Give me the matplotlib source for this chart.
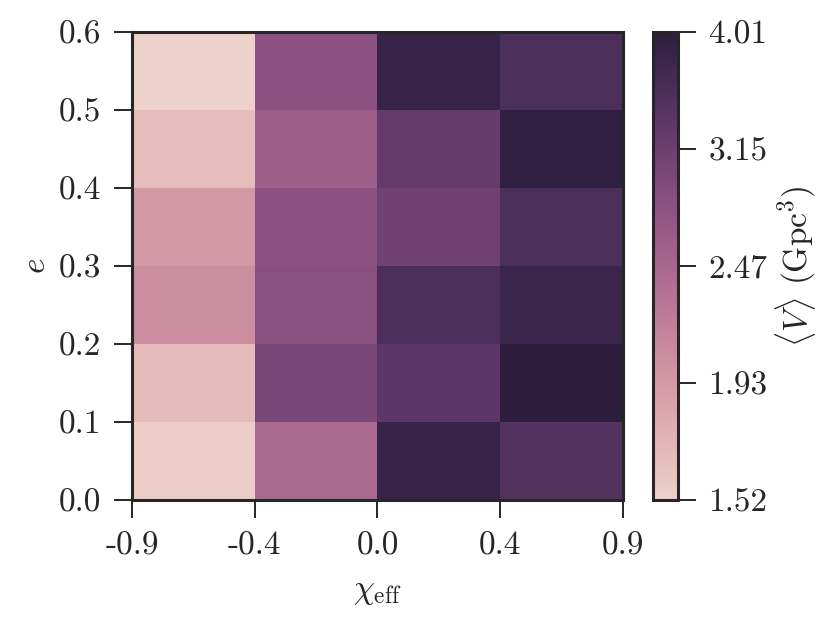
import numpy as np
import matplotlib
matplotlib.use("Agg")
import matplotlib.pyplot as plt
import seaborn as sns
from matplotlib.colors import LogNorm

sns.set_style("ticks")
plt.rcParams['font.family'] = ['cmr10', 'DejaVu Serif']
plt.rcParams['mathtext.fontset'] = 'cm'
plt.rcParams['axes.unicode_minus'] = False

# bins
chi_labels = ['-0.9', '-0.4', '0.0', '0.4', '0.9']
e_labels = ['0.0', '0.1', '0.2', '0.3', '0.4', '0.5', '0.6']
cbar_labels = ['1.52', '1.93', '2.47', '3.15', '4.01']

# <V> in Gpc^3, rows: e bins from 0.0-0.1 upwards, cols: chi_eff bins
V = np.array([
    [1.55, 2.45, 3.85, 3.45],
    [1.68, 3.00, 3.35, 4.01],
    [2.05, 2.85, 3.55, 3.80],
    [1.95, 2.80, 3.10, 3.55],
    [1.66, 2.60, 3.25, 3.95],
    [1.52, 2.80, 3.85, 3.55],
])

cmap = sns.cubehelix_palette(as_cmap=True)
norm = LogNorm(vmin=V.min(), vmax=V.max())

fig = plt.figure(figsize=(8.3, 6.23), dpi=100)
ax = fig.add_axes([0.159, 0.1974, 0.5916, 0.7512])
cax = fig.add_axes([0.7867, 0.1974, 0.030, 0.7512])

mesh = ax.pcolormesh(np.arange(V.shape[1] + 1), np.arange(V.shape[0] + 1), V,
                     cmap=cmap, norm=norm)
ax.set_xlim(0, V.shape[1])
ax.set_ylim(0, V.shape[0])
ax.set_xticks(np.arange(len(chi_labels)))
ax.set_xticklabels(chi_labels)
ax.set_yticks(np.arange(len(e_labels)))
ax.set_yticklabels(e_labels)
ax.tick_params(axis='both', labelsize=24, length=13, width=1.4, color='#262626', pad=9)
ax.tick_params(axis='x', pad=10)
for s in ax.spines.values():
    s.set_linewidth(2.2)
    s.set_color('#262626')
ax.set_xlabel(r'$\chi_\mathrm{eff}$', fontsize=24, labelpad=12)
ax.set_ylabel(r'$e$', fontsize=24, labelpad=6)

cb = fig.colorbar(mesh, cax=cax)
cb.minorticks_off()
cb.set_ticks(np.geomspace(V.min(), V.max(), len(cbar_labels)))
cb.set_ticklabels(cbar_labels)
cb.ax.tick_params(labelsize=24, length=13, width=1.4, color='#262626', pad=9)
cb.outline.set_linewidth(2.2)
cb.outline.set_edgecolor('#262626')
cb.set_label(r'$\langle V \rangle$ (Gpc$^3$)', fontsize=24, labelpad=4)

fig.savefig('out.png', dpi=100)
